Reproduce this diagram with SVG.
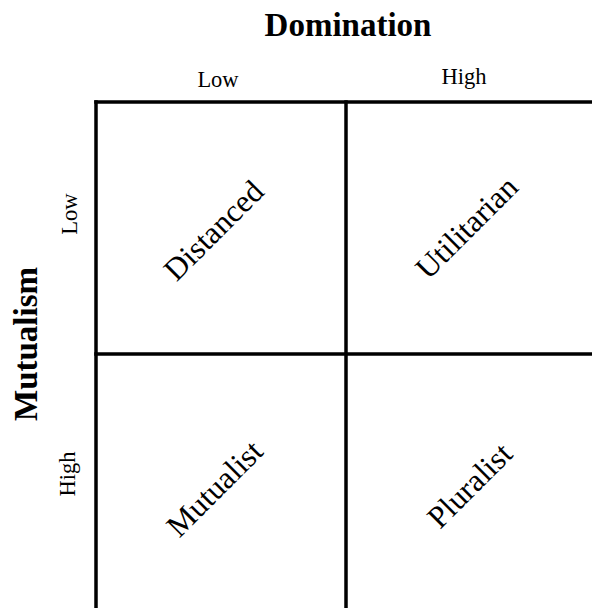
<svg xmlns="http://www.w3.org/2000/svg" width="592" height="608" viewBox="0 0 592 608">
  <style>
    text { font-family: "Liberation Serif", "Times New Roman", serif; fill: #000; text-anchor: middle; }
    .axis { font-size: 33px; font-weight: bold; }
    .level { font-size: 22.5px; }
    .quad { font-size: 31.5px; }
    .grid line { stroke: #000; stroke-width: 3.5; }
  </style>
  <rect width="592" height="608" fill="#fff"/>

  <!-- axis titles and level labels -->
  <g id="axis-domination">
    <text class="axis" x="348" y="36">Domination</text>
    <text class="level" x="218" y="87">Low</text>
    <text class="level" x="464" y="84">High</text>
  </g>
  <g id="axis-mutualism">
    <text class="axis" transform="translate(37,344) rotate(-90)">Mutualism</text>
    <text class="level" transform="translate(76.5,214) rotate(-90)">Low</text>
    <text class="level" transform="translate(75,474) rotate(-90)">High</text>
  </g>

  <!-- 2x2 grid -->
  <g id="grid" class="grid">
    <line x1="94.25" y1="102" x2="592" y2="102"/>
    <line x1="96" y1="100.25" x2="96" y2="608"/>
    <line x1="346" y1="100.25" x2="346" y2="608"/>
    <line x1="94.25" y1="354" x2="592" y2="354"/>
  </g>

  <!-- quadrants -->
  <g id="q-distanced">
    <text class="quad" transform="translate(221,238) rotate(-45)">Distanced</text>
  </g>
  <g id="q-utilitarian">
    <text class="quad" transform="translate(474,235) rotate(-45)">Utilitarian</text>
  </g>
  <g id="q-mutualist">
    <text class="quad" transform="translate(222,496) rotate(-45)">Mutualist</text>
  </g>
  <g id="q-pluralist">
    <text class="quad" transform="translate(477,493) rotate(-45)">Pluralist</text>
  </g>
</svg>
